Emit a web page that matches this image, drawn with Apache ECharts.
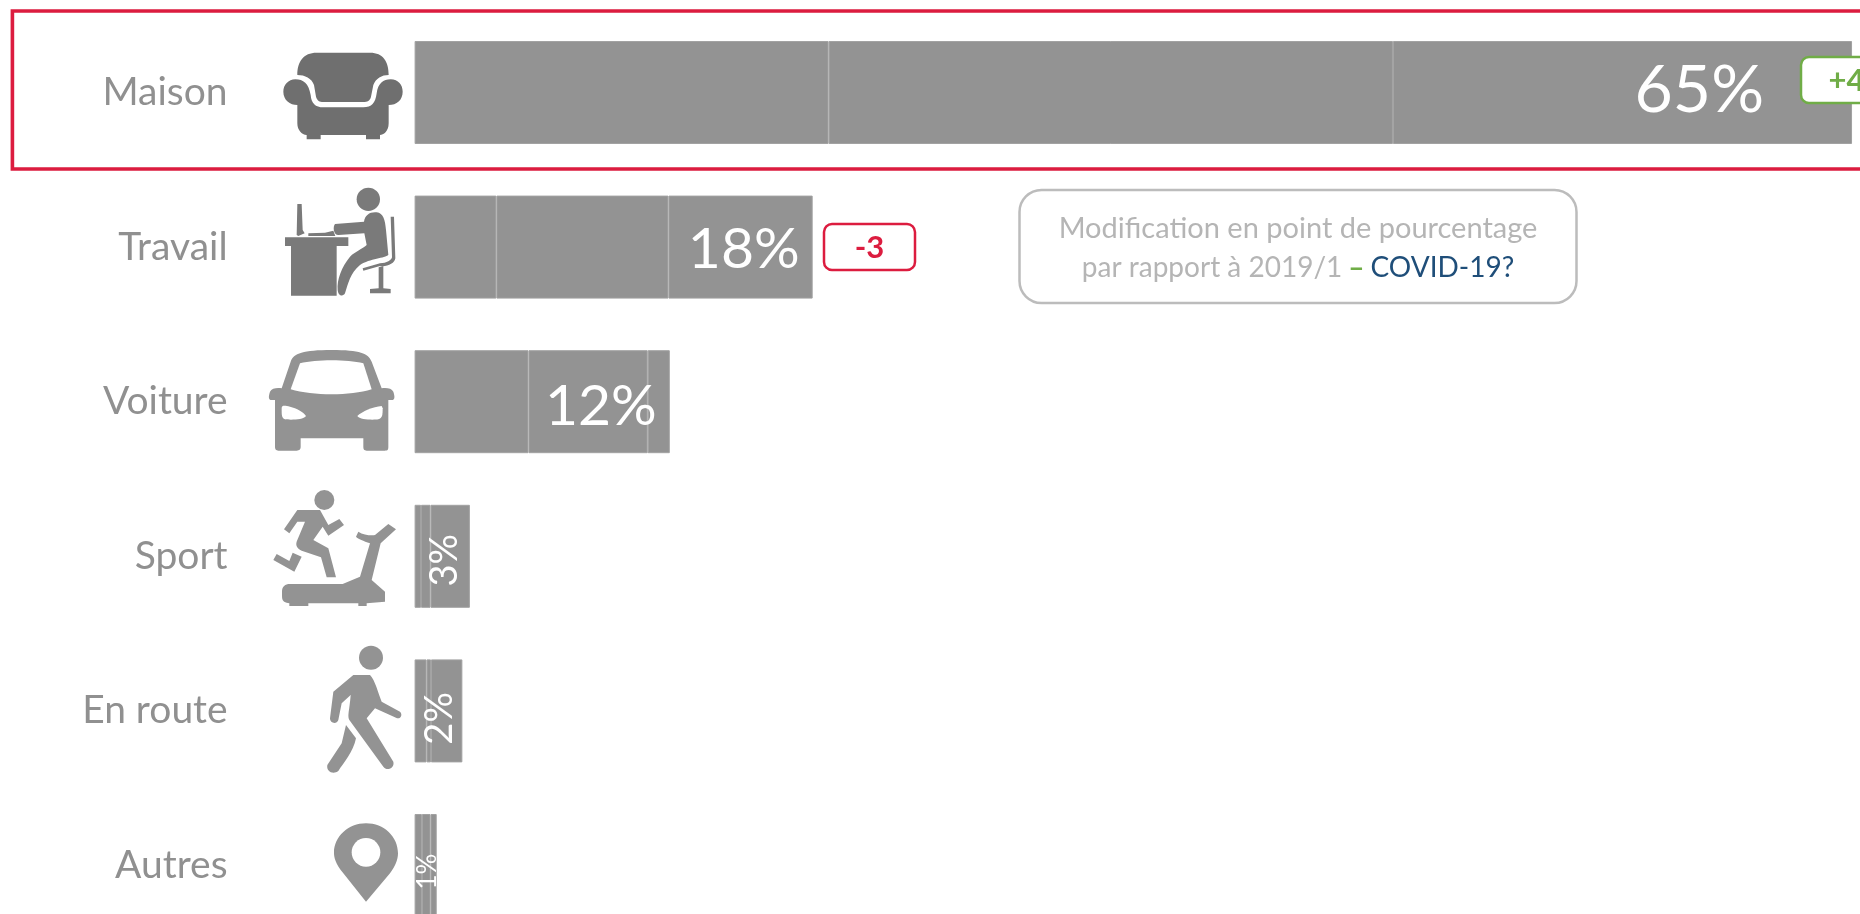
<!DOCTYPE html>
<html>
<head>
    <title>Maison</title>
    <meta charset="utf-8">
    <script type="text/javascript" src="https://cdn.jsdelivr.net/npm/echarts@6/dist/echarts.min.js"></script>
    <style>
        html, body { margin: 0; padding: 0; background: #fff; overflow: hidden; height: 914px; }
    </style>
</head>
<body>
<!-- taller than the window: the last bar runs off the bottom of the picture -->
<div id="chart" style="width: 1860px; height: 960px;"></div>
<script type="text/javascript">
    var categories = ['Maison', 'Travail', 'Voiture', 'Sport', 'En route', 'Autres'];
    var part1 = [18.72, 3.7, 5.15, 0.29, 0.54, 0.33];
    var part2 = [25.52, 7.78, 5.39, 0.43, 0.2, 0.39];
    var part3 = [20.76, 6.52, 1.0, 1.78, 1.42, 0.28];
    var totals = ['65%', '18%', '12%', '3%', '2%', '1%'];

    var font = 'Lato, "Open Sans", sans-serif';
    var grey = '#939393';
    var red = '#dc1c3f';
    var green = '#70ad47';

    // bars 1-3 have the label inside on the right, the narrow ones are turned
    // offset of a turned label goes along the text, so [-down, right]
    var labelStyles = [
        {position: 'insideRight', distance: 88, fontSize: 66, offset: [0, -2]},
        {position: 'insideRight', distance: 13, fontSize: 57, offset: [0, 3]},
        {position: 'insideRight', distance: 13, fontSize: 57, offset: [0, 4.5]},
        {position: 'inside', rotate: 90, fontSize: 38, offset: [-4, -5.6]},
        {position: 'inside', rotate: 90, fontSize: 38, offset: [-7.5, -7.2]},
        {position: 'inside', rotate: 90, fontSize: 26, offset: [-6, -6.3]}
    ];

    function lastPart() {
        var result = [];
        for (var i = 0; i < part3.length; i++) {
            var s = labelStyles[i];
            result.push({
                value: part3[i],
                label: {
                    show: true,
                    formatter: totals[i],
                    position: s.position,
                    distance: s.distance,
                    rotate: s.rotate || 0,
                    offset: s.offset,
                    fontSize: s.fontSize,
                    fontFamily: font,
                    color: '#fff'
                }
            });
        }
        return result;
    }

    function bar(name, data) {
        return {
            name: name,
            type: 'bar',
            stack: 'total',
            barWidth: 103,
            data: data,
            silent: true,
            itemStyle: {color: grey, borderColor: '#a2a2a2', borderWidth: 1}
        };
    }

    function circle(cx, cy, r) {
        return 'M' + (cx - r) + ' ' + cy + 'A' + r + ' ' + r + ' 0 1 1 ' + (cx + r) + ' ' + cy +
            'A' + r + ' ' + r + ' 0 1 1 ' + (cx - r) + ' ' + cy + 'Z';
    }

    // icons are traced from the picture, 3 path units = 1 pixel
    // x is the left of the tracing, dy its top relative to the row centre
    var icons = [
        {x: 270, dy: -52.5, color: '#6f6f6f', paths: [
            'M82 105C82 65 100 38 140 38L300 38C340 38 356 65 356 105C335 105 318 115 310 135L303 170C300 182 292 186 280 186L160 186C148 186 142 182 138 170L132 135C125 115 105 105 82 105Z',
            'M76 118C100 118 116 130 122 165C124 190 136 202 160 202L280 202C305 202 316 190 320 160C324 130 340 118 362 118C385 118 398 135 398 155C398 180 380 195 356 195L356 250C356 275 340 285 330 285L330 298L288 298L288 285L152 285L152 298L110 298L110 285C95 285 82 270 82 250L82 195C60 195 40 180 40 155C40 135 55 118 76 118Z'
        ]},
        {x: 270, dy: -67.1, color: '#7a7a7a', paths: [
            circle(295, 58, 35),
            'M82 72L95 72L98 150L104 160L85 168L80 165Z',
            'M115 160L165 158L190 152L196 168L115 168Z',
            'M45 172L235 172L235 198L200 198L200 347L63 347L63 198L45 198Z',
            'M195 132L282 125C285 105 300 95 320 97C340 100 345 118 348 150L355 225C345 235 300 235 270 255C240 280 235 310 225 340C220 350 205 350 203 330C200 300 215 260 240 230C255 215 280 205 290 195L283 160L205 165C190 165 188 140 195 132Z',
            'M362 110L372 110L376 235C375 250 350 262 330 258L280 272L278 265L330 250C350 250 365 240 366 232Z',
            'M326 262L340 258L340 325L362 327L362 340L300 340L300 327L326 325Z'
        ]},
        {x: 260, dy: -61.7, color: grey, paths: [
            'M45 180L35 180C25 180 25 170 30 155C35 145 50 143 65 145L92 65C100 40 130 30 215 30C300 30 325 40 335 65L365 145C380 143 395 145 400 155C405 170 405 180 395 180L385 180L385 322C385 332 380 332 375 332L320 332C312 332 310 328 310 322L310 295L122 295L122 322C122 328 118 332 110 332L55 332C48 332 45 328 45 322Z'
        ], holes: [
            'M120 70C170 58 260 58 310 70L335 148C270 168 160 168 92 148Z',
            'M65 205C65 195 75 197 90 200C110 205 130 215 138 228C130 240 90 240 75 238C65 235 65 225 65 205Z',
            'M365 198C340 200 305 215 292 228C300 240 340 240 355 238C367 235 368 225 368 205Z'
        ]},
        {x: 260, dy: -76.3, color: grey, paths: [
            circle(193, 60, 30),
            'M112 90L180 90L205 135L238 117L252 135L205 167L188 140L160 180L205 205L228 292L200 292L183 232L125 212C110 205 105 195 112 180L135 125L112 125L88 160L72 148Z',
            'M50 222L88 243L98 218L125 230L103 275L40 240Z',
            'M90 312L248 312L300 290L330 190C310 182 295 178 288 170L295 155C310 165 335 168 345 165L385 132L408 148L362 190L335 300L375 335L375 365L320 370L320 378L295 378L295 370L145 370L145 378L88 378L88 370L80 368C68 365 66 360 66 345L66 335C66 320 75 312 90 312Z'
        ]},
        {x: 310, dy: -70.9, color: grey, paths: [
            circle(183, 53, 36),
            'M130 105L180 105C195 120 205 160 215 185L270 215C280 225 270 240 258 233L195 205L170 235L250 365C255 385 230 395 220 380L118 240C112 225 118 215 122 165L95 190L85 240C80 255 60 250 60 235L70 155Z',
            'M108 255L138 295C130 335 100 370 85 393C70 405 48 395 52 375L95 310Z'
        ]},
        {x: 310, dy: -55.5, color: grey, paths: [
            'M168 275L100 190C75 160 72 140 72 128C72 80 115 40 168 40C222 40 264 80 264 130C264 150 255 170 240 190Z'
        ], holes: [
            circle(168, 127, 43)
        ]}
    ];

    function renderIcon(params, api) {
        var ic = icons[params.dataIndex];
        var rowY = api.coord([0, params.dataIndex])[1];
        var children = [];
        ic.paths.forEach(function (p) {
            children.push({type: 'path', shape: {pathData: p}, style: {fill: ic.color}});
        });
        (ic.holes || []).forEach(function (p) {
            children.push({type: 'path', shape: {pathData: p}, style: {fill: '#fff'}});
        });
        return {type: 'group', x: ic.x, y: rowY + ic.dy, scaleX: 1 / 3, scaleY: 1 / 3, children: children};
    }

    function badge(x, y, text, color) {
        return {
            type: 'group',
            children: [{
                type: 'rect',
                z: 10,
                shape: {x: x, y: y, width: 91, height: 46, r: 8},
                style: {fill: '#fff', stroke: color, lineWidth: 2.5}
            }, {
                type: 'text',
                z: 11,
                x: x + 45.5,
                y: y + 24,
                style: {
                    text: text,
                    fill: color,
                    font: 'bold 31px ' + font,
                    align: 'center',
                    verticalAlign: 'middle'
                }
            }]
        };
    }

    var chart = echarts.init(document.getElementById('chart'));
    var option = {
        animation: false,
        backgroundColor: '#fff',
        grid: {left: 414.6, top: 15.2, width: 1445.4, height: 927.6},
        xAxis: {type: 'value', min: 0, max: 65.36, show: false},
        yAxis: {
            type: 'category',
            inverse: true,
            data: categories,
            axisLine: {show: false},
            axisTick: {show: false},
            axisLabel: {
                margin: 187,
                fontSize: 39,
                fontFamily: font,
                color: '#909090',
                padding: [4, 0, 0, 0]
            }
        },
        series: [
            bar('a', part1),
            bar('b', part2),
            bar('c', lastPart()),
            {
                name: 'icons',
                type: 'custom',
                silent: true,
                renderItem: renderIcon,
                data: categories.map(function (c, i) { return [0, i]; })
            }
        ],
        graphic: [
            {
                type: 'rect',
                z: 4,
                shape: {x: 12.4, y: 11, width: 1900, height: 158},
                style: {fill: 'none', stroke: red, lineWidth: 3.6}
            },
            badge(824, 224, '-3', red),
            badge(1801, 57, '+4', green),
            {
                type: 'rect',
                z: 4,
                shape: {x: 1019.5, y: 190, width: 557, height: 113, r: 22},
                style: {fill: '#fff', stroke: '#bcbcbc', lineWidth: 2.5}
            },
            {
                type: 'text',
                z: 5,
                x: 1298,
                y: 229,
                style: {
                    text: 'Modification en point de pourcentage',
                    fill: '#b5b5b5',
                    font: '29px ' + font,
                    align: 'center',
                    verticalAlign: 'middle'
                }
            },
            {
                type: 'text',
                z: 5,
                x: 1298,
                y: 268,
                style: {
                    text: '{g|par rapport à 2019/1}{d|–}{b|COVID-19?}',
                    align: 'center',
                    verticalAlign: 'middle',
                    font: '28px ' + font,
                    rich: {
                        g: {fill: '#b5b5b5', font: '28px ' + font},
                        d: {fill: green, font: 'bold 28px ' + font, padding: [0, 6]},
                        b: {fill: '#1f4e79', font: '28px ' + font}
                    }
                }
            }
        ]
    };
    chart.setOption(option);
</script>
</body>
</html>
